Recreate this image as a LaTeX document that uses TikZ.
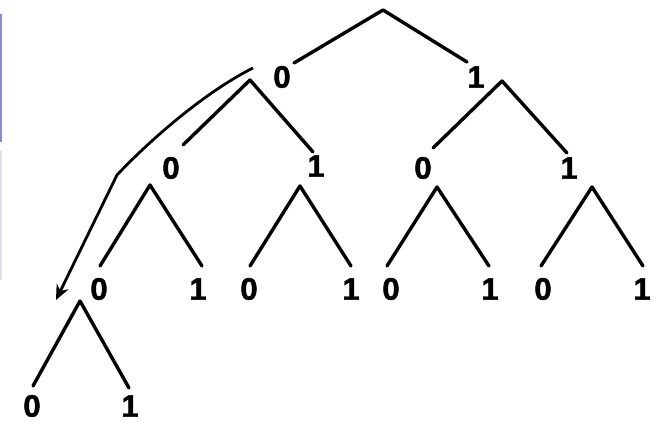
\documentclass[tikz,border=0pt]{standalone}
\usepackage{fontspec}
\setmainfont{Liberation Sans}[BoldFeatures={FakeBold=1.5}]
\usetikzlibrary{arrows.meta}
\definecolor{barblue}{RGB}{140,140,200}
\definecolor{barlight}{RGB}{224,224,236}
\tikzset{
  lbl/.style={font=\bfseries\fontsize{31}{34}\selectfont, inner sep=0pt,
    text=black, draw=none},
  br/.style={line width=3.4pt, line cap=round, line join=round},
}
\begin{document}
\begin{tikzpicture}[x=1pt,y=-1pt]
\useasboundingbox (0,0) rectangle (659,422);
\fill[barblue] (0,14) rectangle (2,142);
\fill[barlight] (0,151) rectangle (2,280);
% apexes
\coordinate (a0) at (383,10);
\coordinate (a1) at (250,80);
\coordinate (a2) at (502,81);
\coordinate (a3) at (150,185);
\coordinate (a4) at (300,186);
\coordinate (a5) at (437,187);
\coordinate (a6) at (592,187);
\coordinate (a7) at (80,301);
% branch ends
\coordinate (e01) at (294,63);
\coordinate (e02) at (467,62);
\coordinate (e11) at (183,145);
\coordinate (e12) at (313,152);
\coordinate (e21) at (433,148);
\coordinate (e22) at (567,153);
\coordinate (e31) at (100,266);
\coordinate (e32) at (202,266);
\coordinate (e41) at (250,266);
\coordinate (e42) at (351,266);
\coordinate (e51) at (387,266);
\coordinate (e52) at (489,266);
\coordinate (e61) at (541,266);
\coordinate (e62) at (643,266);
\coordinate (e71) at (33,386);
\coordinate (e72) at (129,388);
% labels
\node[lbl] (n0)  at (282,77) {0};
\node[lbl] (n1)  at (476,77) {1};
\node[lbl] (n00) at (171,168) {0};
\node[lbl] (n01) at (316,166) {1};
\node[lbl] (n10) at (423,168) {0};
\node[lbl] (n11) at (569,168) {1};
\node[lbl] (m1) at (99,289) {0};
\node[lbl] (m2) at (198,289) {1};
\node[lbl] (m3) at (249,289) {0};
\node[lbl] (m4) at (351,289) {1};
\node[lbl] (m5) at (391,289) {0};
\node[lbl] (m6) at (490,289) {1};
\node[lbl] (m7) at (543,289) {0};
\node[lbl] (m8) at (642,289) {1};
\node[lbl] (b1) at (32,406) {0};
\node[lbl] (b2) at (130,406) {1};
% branches
\draw[br] (e01) -- (a0) -- (e02);
\draw[br] (e11) -- (a1) -- (e12);
\draw[br] (e21) -- (a2) -- (e22);
\draw[br] (e31) -- (a3) -- (e32);
\draw[br] (e41) -- (a4) -- (e42);
\draw[br] (e51) -- (a5) -- (e52);
\draw[br] (e61) -- (a6) -- (e62);
\draw[br] (e71) -- (a7) -- (e72);
% arrow
\coordinate (s0) at (253,68);
\coordinate (s1) at (117,175);
\coordinate (s2) at (56,300);
\draw[line width=2.8pt, line join=round, -{Stealth[length=15pt,width=13pt]}]
  (s0) .. controls (205,92) and (150,140) .. (s1) -- (s2);
\end{tikzpicture}
\end{document}
